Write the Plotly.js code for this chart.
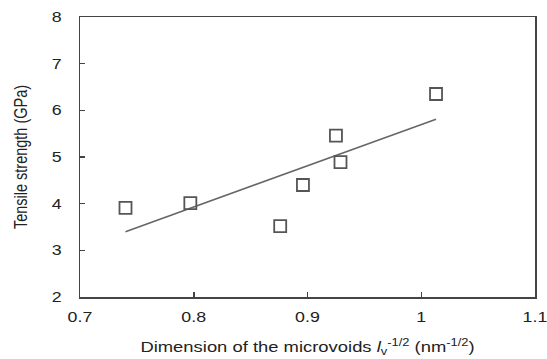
<!DOCTYPE html>
<html>
<head>
<meta charset="utf-8">
<script src="https://cdn.plot.ly/plotly-3.0.1.min.js"></script>
<style>html,body{margin:0;padding:0;background:#fff;}#chart{width:547px;height:359px;}</style>
</head>
<body>
<div id="chart"></div>
<script>
// Data
const dimension = [0.740, 0.797, 0.876, 0.896, 0.925, 0.929, 1.013];
const strength  = [3.91, 4.01, 3.52, 4.40, 5.46, 4.89, 6.35];
const fitX = [0.740, 1.013];
const fitY = [3.40, 5.81];
const xTicks = [0.7, 0.8, 0.9, 1, 1.1];
const xTickText = ['0.7', '0.8', '0.9', '1', '1.1'];
const yTicks = [2, 3, 4, 5, 6, 7, 8];

const axisColor = '#444';
const family = 'Liberation Sans, Arial, sans-serif';
const tickFont = {family: family, size: 14, color: '#222'};
const titleFont = {family: family, size: 14.5, color: '#222'};

const traces = [
  {x: fitX, y: fitY, type: 'scatter', mode: 'lines',
   line: {color: '#666', width: 1.5}, hoverinfo: 'skip'},
  {x: dimension, y: strength, type: 'scatter', mode: 'markers',
   marker: {symbol: 'square-open', size: 12, color: '#555', line: {width: 1.8, color: '#555'}}}
];

const layout = {
  width: 547, height: 359,
  margin: {l: 80, r: 12, t: 17, b: 62},
  paper_bgcolor: '#fff', plot_bgcolor: '#fff',
  showlegend: false,
  font: tickFont,
  xaxis: {
    range: [0.7, 1.1], tickvals: xTicks, ticktext: xTickText,
    ticks: 'inside', ticklen: 5, tickwidth: 1.5, tickcolor: axisColor,
    showline: true, linecolor: axisColor, linewidth: 1.5, mirror: true,
    showgrid: false, zeroline: false, ticklabelstandoff: 7,
    tickfont: tickFont,
    title: {text: 'Dimension of the microvoids <i>l</i><sub>v</sub><sup>-1/2</sup> (nm<sup>-1/2</sup>)',
            font: titleFont, standoff: 17}
  },
  yaxis: {
    range: [2, 8], tickvals: yTicks,
    ticks: 'inside', ticklen: 5, tickwidth: 1.5, tickcolor: axisColor,
    showline: true, linecolor: axisColor, linewidth: 1.5, mirror: true,
    showgrid: false, zeroline: false, ticklabelstandoff: 14,
    tickfont: tickFont,
    title: {text: 'Tensile strength (GPa)', font: titleFont, standoff: 24}
  }
};

// The reference text is horizontally wide; stretch each text about its anchor.
const STRETCH = 1.27;
Plotly.newPlot('chart', traces, layout, {staticPlot: true, displayModeBar: false}).then(function (gd) {
  gd.querySelectorAll('svg text').forEach(function (el) {
    if (!el.textContent.trim()) return;
    const r = el.getBoundingClientRect();
    const anchor = el.getAttribute('text-anchor') || getComputedStyle(el).textAnchor || 'start';
    let cx = r.left + r.width / 2;
    if (anchor === 'start' && !/rotate/.test(el.getAttribute('transform') || '')) cx = r.left;
    if (anchor === 'end' && !/rotate/.test(el.getAttribute('transform') || '')) cx = r.right;
    const m = el.parentNode.getScreenCTM();
    const lx = (cx - m.e) / m.a;
    const old = el.getAttribute('transform') || '';
    el.setAttribute('transform', 'translate(' + lx + ',0) scale(' + STRETCH + ',1) translate(' + (-lx) + ',0) ' + old);
  });
});
</script>
</body>
</html>
